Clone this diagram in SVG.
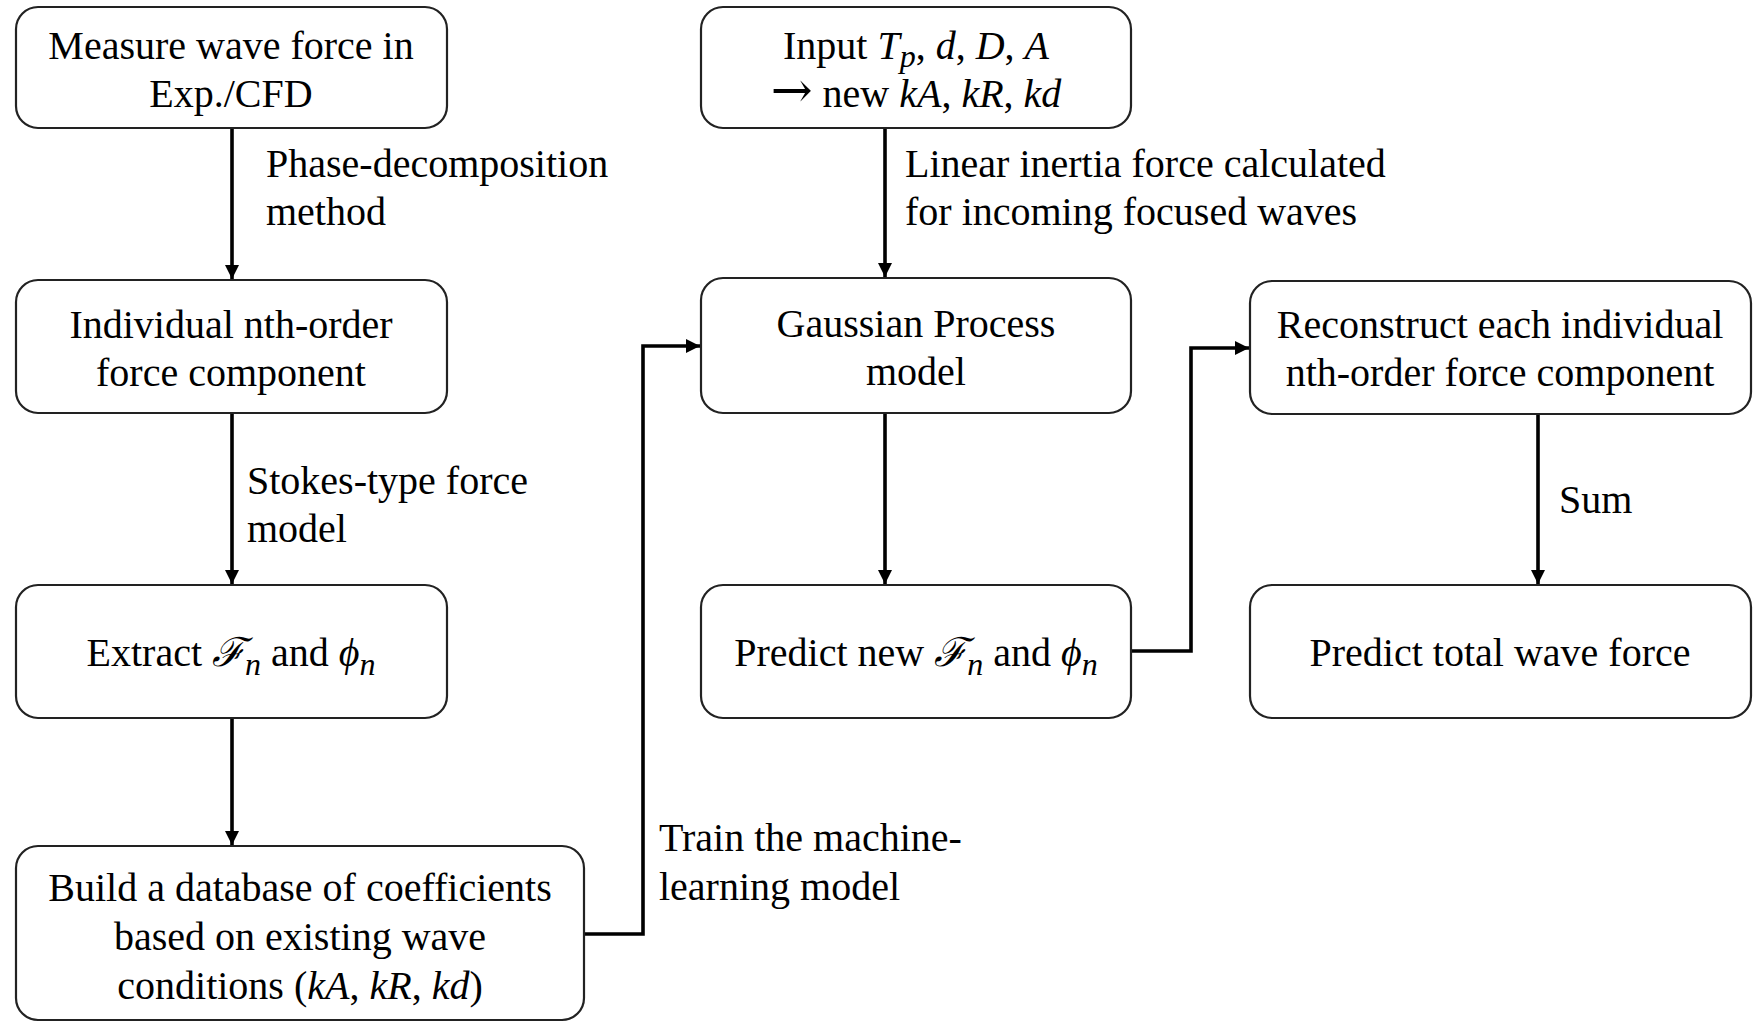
<svg xmlns="http://www.w3.org/2000/svg" width="1760" height="1022" viewBox="0 0 1760 1022">
<style>
.box{fill:#fff;stroke:#222;stroke-width:2.2}
.t{font-family:"Liberation Serif","DejaVu Serif",serif;font-size:40px;fill:#000}
.c{text-anchor:middle}
.i{font-style:italic}
.sub{font-size:32px}
.arr{font-family:"DejaVu Serif",serif;font-size:50px}
.conn{fill:none;stroke:#000;stroke-width:3.6}
</style>
<defs>
<marker id="ah" viewBox="0 0 10 10" refX="10" refY="5" markerWidth="4" markerHeight="4" orient="auto" markerUnits="strokeWidth">
<path d="M0,0 L10,5 L0,10 Z" fill="#000"/>
</marker>
</defs>
<rect width="1760" height="1022" fill="#fff"/>

<g id="connectors">
<line class="conn" x1="232" y1="128" x2="232" y2="279" marker-end="url(#ah)"/>
<line class="conn" x1="232" y1="413" x2="232" y2="584" marker-end="url(#ah)"/>
<line class="conn" x1="232" y1="718" x2="232" y2="845" marker-end="url(#ah)"/>
<polyline class="conn" points="584,934 643,934 643,346 700,346" marker-end="url(#ah)"/>
<line class="conn" x1="885" y1="128" x2="885" y2="277" marker-end="url(#ah)"/>
<line class="conn" x1="885" y1="413" x2="885" y2="584" marker-end="url(#ah)"/>
<polyline class="conn" points="1131,651 1191,651 1191,348 1249,348" marker-end="url(#ah)"/>
<line class="conn" x1="1538" y1="414" x2="1538" y2="584" marker-end="url(#ah)"/>
<text class="t" x="266" y="177">Phase-decomposition</text>
<text class="t" x="266" y="225">method</text>
<text class="t" x="247" y="494">Stokes-type force</text>
<text class="t" x="247" y="542">model</text>
<text class="t" x="659" y="851">Train the machine-</text>
<text class="t" x="659" y="900">learning model</text>
<text class="t" x="905" y="177">Linear inertia force calculated</text>
<text class="t" x="905" y="225">for incoming focused waves</text>
<text class="t" x="1559" y="513">Sum</text>
</g>

<g id="node-measure">
<rect class="box" x="16" y="7" width="431" height="121" rx="22"/>
<text class="t c" x="231" y="59">Measure wave force in</text>
<text class="t c" x="231" y="107">Exp./CFD</text>
</g>

<g id="node-individual">
<rect class="box" x="16" y="280" width="431" height="133" rx="22"/>
<text class="t c" x="231" y="338">Individual nth-order</text>
<text class="t c" x="231" y="386">force component</text>
</g>

<g id="node-extract">
<rect class="box" x="16" y="585" width="431" height="133" rx="22"/>
<text class="t c" x="231" y="666">Extract <tspan class="i">ℱ</tspan><tspan class="i sub" dy="9">n</tspan><tspan dy="-9"> and </tspan><tspan class="i">ϕ</tspan><tspan class="i sub" dy="9">n</tspan></text>
</g>

<g id="node-database">
<rect class="box" x="16" y="846" width="568" height="174" rx="22"/>
<text class="t c" x="300" y="901">Build a database of coefficients</text>
<text class="t c" x="300" y="950">based on existing wave</text>
<text class="t c" x="300" y="999">conditions (<tspan class="i">kA</tspan>, <tspan class="i">kR</tspan>, <tspan class="i">kd</tspan>)</text>
</g>

<g id="node-input">
<rect class="box" x="701" y="7" width="430" height="121" rx="22"/>
<text class="t c" x="916" y="59">Input <tspan class="i">T</tspan><tspan class="i sub" dy="8">p</tspan><tspan dy="-8">, </tspan><tspan class="i">d</tspan>, <tspan class="i">D</tspan>, <tspan class="i">A</tspan></text>
<text class="t c" x="916" y="107"><tspan class="arr">→</tspan> new <tspan class="i">kA</tspan>, <tspan class="i">kR</tspan>, <tspan class="i">kd</tspan></text>
</g>

<g id="node-gp">
<rect class="box" x="701" y="278" width="430" height="135" rx="22"/>
<text class="t c" x="916" y="337">Gaussian Process</text>
<text class="t c" x="916" y="385">model</text>
</g>

<g id="node-predict-new">
<rect class="box" x="701" y="585" width="430" height="133" rx="22"/>
<text class="t c" x="916" y="666">Predict new <tspan class="i">ℱ</tspan><tspan class="i sub" dy="9">n</tspan><tspan dy="-9"> and </tspan><tspan class="i">ϕ</tspan><tspan class="i sub" dy="9">n</tspan></text>
</g>

<g id="node-reconstruct">
<rect class="box" x="1250" y="281" width="501" height="133" rx="22"/>
<text class="t c" x="1500" y="338">Reconstruct each individual</text>
<text class="t c" x="1500" y="386">nth-order force component</text>
</g>

<g id="node-total">
<rect class="box" x="1250" y="585" width="501" height="133" rx="22"/>
<text class="t c" x="1500" y="666">Predict total wave force</text>
</g>
</svg>
